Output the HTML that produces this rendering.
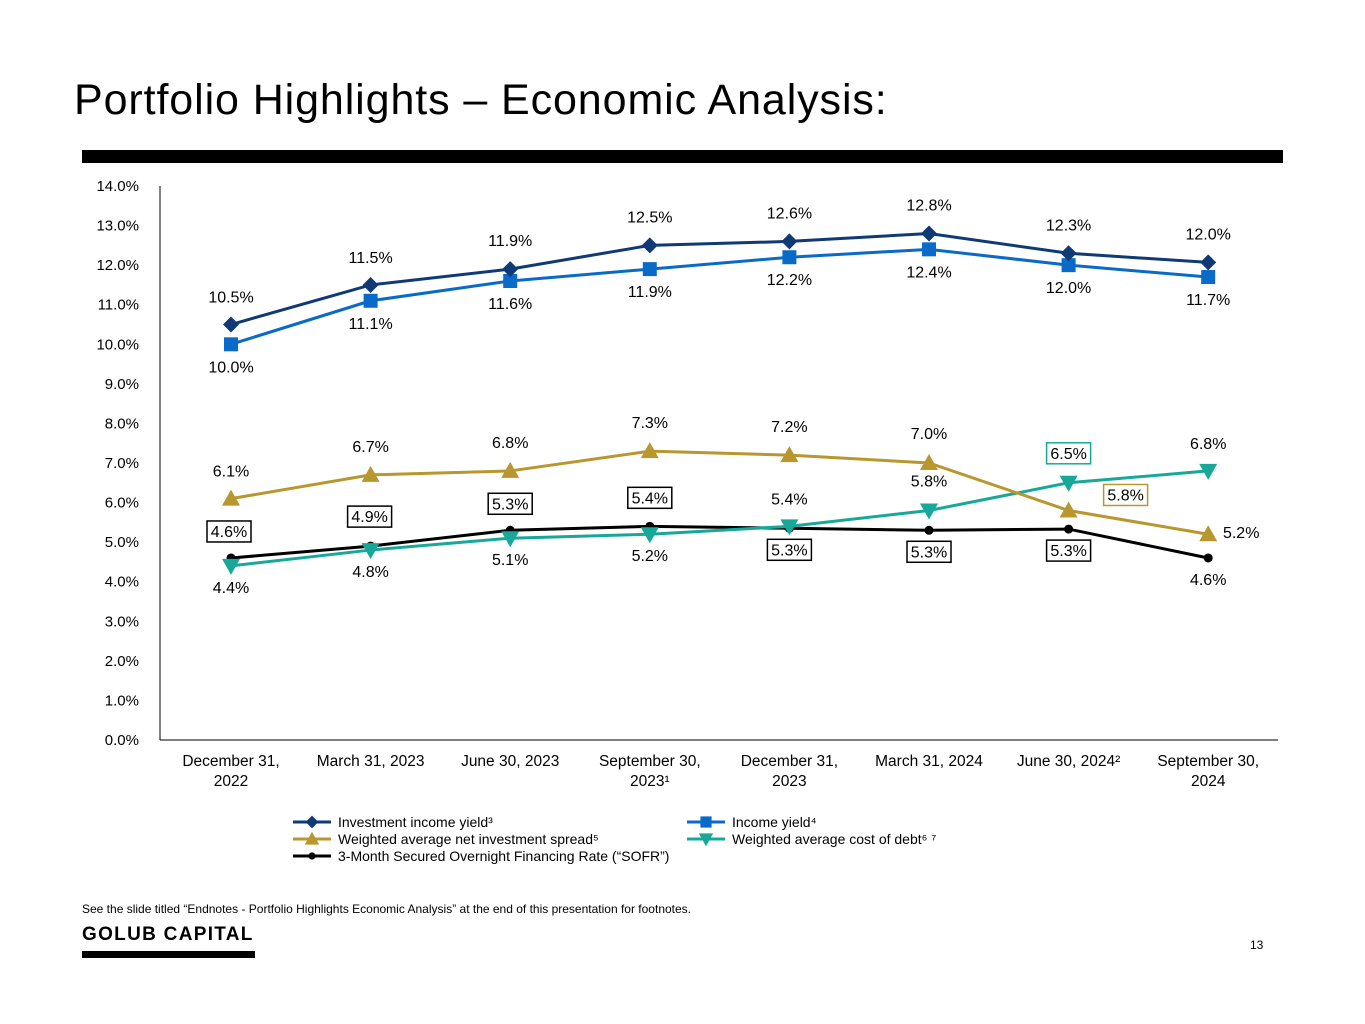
<!DOCTYPE html>
<html><head><meta charset="utf-8"><style>
body{margin:0;width:1365px;height:1024px;background:#fff;font-family:"Liberation Sans",sans-serif;overflow:hidden;position:relative}
.t{position:absolute}
</style></head><body>
<div class="t" style="left:74px;top:76px;font-size:43px;color:#000;letter-spacing:0.9px">Portfolio Highlights – Economic Analysis:</div>
<div class="t" style="left:82px;top:150px;width:1201px;height:13px;background:#000"></div>
<svg id="chart" class="t" style="left:0;top:0" width="1365" height="900"></svg>
<div class="t" style="left:82px;top:902px;font-size:12px">See the slide titled “Endnotes - Portfolio Highlights Economic Analysis” at the end of this presentation for footnotes.</div>
<div class="t" style="left:82px;top:924px;font-size:19px;font-weight:bold;letter-spacing:1.3px">GOLUB CAPITAL</div>
<div class="t" style="left:82px;top:951px;width:173px;height:7px;background:#000"></div>
<div class="t" style="left:1250px;top:938px;font-size:12px">13</div>
<script>
const categories=["December 31,|2022","March 31, 2023","June 30, 2023","September 30,|2023¹","December 31,|2023","March 31, 2024","June 30, 2024²","September 30,|2024"];
const yTicks=[0,1,2,3,4,5,6,7,8,9,10,11,12,13,14];
const investmentIncomeYield=[10.5,11.5,11.9,12.5,12.6,12.8,12.3,12.07];
const investmentIncomeYieldLabels=["10.5%","11.5%","11.9%","12.5%","12.6%","12.8%","12.3%","12.0%"];
const incomeYield=[10.0,11.1,11.6,11.9,12.2,12.4,12.0,11.7];
const incomeYieldLabels=["10.0%","11.1%","11.6%","11.9%","12.2%","12.4%","12.0%","11.7%"];
const netSpread=[6.1,6.7,6.8,7.3,7.2,7.0,5.8,5.2];
const netSpreadLabels=["6.1%","6.7%","6.8%","7.3%","7.2%","7.0%","5.8%","5.2%"];
const costOfDebt=[4.4,4.8,5.1,5.2,5.4,5.8,6.5,6.8];
const costOfDebtLabels=["4.4%","4.8%","5.1%","5.2%","5.4%","5.8%","6.5%","6.8%"];
const sofr=[4.6,4.9,5.3,5.4,5.35,5.3,5.33,4.6];
const sofrLabels=["4.6%","4.9%","5.3%","5.4%","5.3%","5.3%","5.3%","4.6%"];

const svg=document.getElementById('chart');const NS='http://www.w3.org/2000/svg';
function el(tag,a,parent){const e=document.createElementNS(NS,tag);for(const k in a)e.setAttribute(k,a[k]);(parent||svg).appendChild(e);return e;}
const x0=231,dx=139.6,y0=740,ppu=39.57;
const X=i=>x0+i*dx, Y=v=>y0-v*ppu;
let ax=el('line',{x1:160,y1:186,x2:160,y2:740,stroke:'#000','stroke-width':1});

let bx=el('line',{x1:160,y1:740,x2:1278,y2:740,stroke:'#000','stroke-width':1});

yTicks.forEach(v=>{const t=el('text',{x:139,y:Y(v)+5,'text-anchor':'end','font-size':15});t.textContent=v.toFixed(1)+'%';
});
categories.forEach((c,i)=>{const t=el('text',{x:X(i),y:766,'text-anchor':'middle','font-size':15.5});

c.split('|').forEach((ln,j)=>{const s=el('tspan',{x:X(i),dy:j?20:0},t);s.textContent=ln;});});
function marker(type,x,y,color,g){
 if(type==='diamond')return el('polygon',{points:`${x},${y-8} ${x+8},${y} ${x},${y+8} ${x-8},${y}`,fill:color},g);
 if(type==='square')return el('rect',{x:x-7,y:y-7,width:14,height:14,fill:color},g);
 if(type==='up')return el('polygon',{points:`${x},${y-9} ${x+9},${y+7} ${x-9},${y+7}`,fill:color},g);
 if(type==='down')return el('polygon',{points:`${x-9},${y-7} ${x+9},${y-7} ${x},${y+9}`,fill:color},g);
 return el('circle',{cx:x,cy:y,r:4.5,fill:color},g);
}
function series(name,vals,labels,color,type,offs,box){
 const g=el('g',{});
 const l=el('polyline',{points:vals.map((v,i)=>X(i)+','+Y(v)).join(' '),fill:'none',stroke:color,'stroke-width':3},g);
 
 vals.forEach((v,i)=>{const m=marker(type,X(i),Y(v),color,g);});
 labels.forEach((s,i)=>{const o=offs[i];const lx=X(i)+o[0],ly=Y(vals[i])+o[1];
  if(box&&box[i]){const r=el('rect',{x:lx-22,y:ly-14,width:44,height:21,fill:'#fff',stroke:box[i],'stroke-width':1.5},g);
   }
  const t=el('text',{x:lx,y:ly+2,'text-anchor':'middle','font-size':16},g);t.textContent=s;
  });
}
series('sofr',sofr,sofrLabels,'#000','dot',[[-2,-23],[-1,-26],[0,-23],[0,-25],[0,25],[0,25],[0,25],[0,25]],['#000','#000','#000','#000','#000','#000','#000',null]);
series('cost-of-debt',costOfDebt,costOfDebtLabels,'#17a89a','down',[[0,25],[0,25],[0,25],[0,25],[0,-24],[0,-26],[0,-26],[0,-24]],[null,null,null,null,null,null,'#17a89a',null]);
series('net-spread',netSpread,netSpreadLabels,'#b8972f','up',[[0,-24],[0,-25],[0,-25],[0,-25],[0,-25],[0,-26],[57,-12],[33,2]],[null,null,null,null,null,null,'#b8972f',null]);
series('income-yield',incomeYield,incomeYieldLabels,'#0a6ac8','square',[[0,26],[0,26],[0,26],[0,26],[0,26],[0,26],[0,26],[0,26]],null);
series('investment-income-yield',investmentIncomeYield,investmentIncomeYieldLabels,'#0f3a75','diamond',[[0,-24],[0,-24],[0,-25],[0,-25],[0,-25],[0,-25],[0,-25],[0,-25]],null);
const leg=[['Investment income yield','³','#0f3a75','diamond',293,822],['Income yield','⁴','#0a6ac8','square',687,822],
['Weighted average net investment spread','⁵','#b8972f','up',293,839],['Weighted average cost of debt','⁶ ⁷','#17a89a','down',687,839],
['3-Month Secured Overnight Financing Rate (“SOFR”)','','#000','dot',293,856]];
leg.forEach(e=>{const g=el('g',{});
 el('line',{x1:e[4],y1:e[5],x2:e[4]+38,y2:e[5],stroke:e[2],'stroke-width':3},g);
 marker(e[3],e[4]+19,e[5],e[2],g).setAttribute('transform',`translate(${e[4]+19},${e[5]}) scale(0.8) translate(${-(e[4]+19)},${-e[5]})`);
 const t=el('text',{x:e[4]+45,y:e[5]+5,'font-size':14},g);t.textContent=e[0]+e[1];});
</script>
</body></html>
